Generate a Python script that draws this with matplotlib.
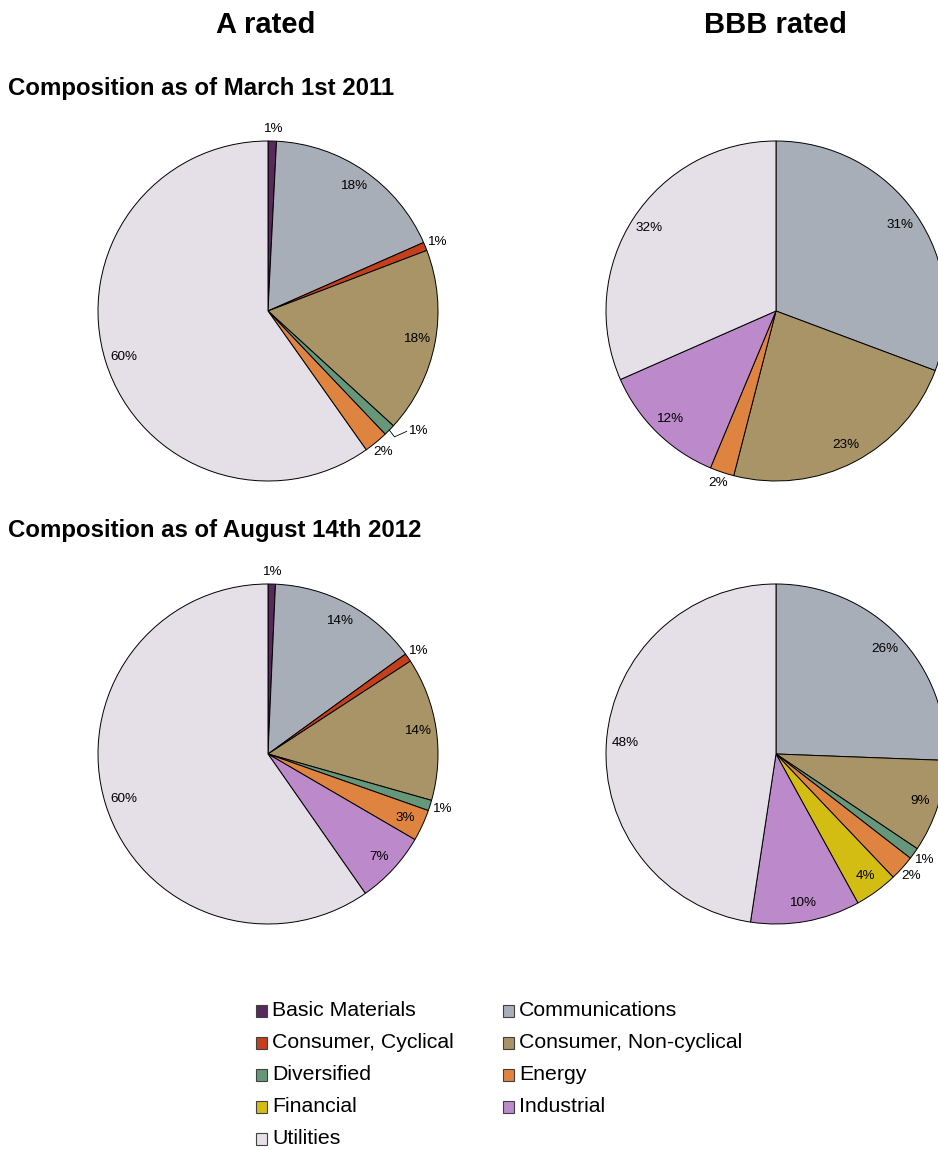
import numpy as np
import matplotlib
matplotlib.use("Agg")
import matplotlib.pyplot as plt
from matplotlib.patches import Rectangle

plt.rcParams['font.family'] = ['Liberation Sans', 'DejaVu Sans']

# sector order (clockwise from 12 o'clock)
sectors = ["Basic Materials", "Communications", "Consumer, Cyclical",
           "Consumer, Non-cyclical", "Diversified", "Energy",
           "Financial", "Industrial", "Utilities"]
colors = ["#582A5C", "#A8AEB8", "#C4401C", "#A99467", "#67977A",
          "#DE8440", "#D4BD12", "#BC8ACA", "#E5E0E8"]

# shares in percent
a_2011 = [0.8, 17.6, 0.8, 17.6, 1.1, 2.3, 0.0, 0.0, 59.8]
bbb_2011 = [0.0, 30.7, 0.0, 23.3, 0.0, 2.3, 0.0, 12.1, 31.6]
a_2012 = [0.7, 14.3, 0.8, 13.6, 1.0, 3.0, 0.0, 6.9, 59.7]
bbb_2012 = [0.0, 25.6, 0.0, 8.8, 1.1, 2.4, 4.1, 10.4, 47.6]

W, H = 938, 1150
R = 170  # pie radius in px
fig = plt.figure(figsize=(W / 100, H / 100), dpi=100)


def draw_pie(values, cx, cy, leader=()):
    ax = fig.add_axes([(cx - R) / W, 1 - (cy + R) / H, 2 * R / W, 2 * R / H])
    vals = np.array(values)
    keep = vals > 0
    cols = [c for c, k in zip(colors, keep) if k]
    names = [s for s, k in zip(sectors, keep) if k]
    wedges, _ = ax.pie(vals[keep], colors=cols, startangle=90, counterclock=False,
                       radius=1.0, wedgeprops=dict(edgecolor="black", linewidth=0.7))
    for w, v, name in zip(wedges, vals[keep], names):
        mid = np.deg2rad((w.theta1 + w.theta2) / 2)
        lab = "%.0f%%" % v
        if v < 2.5:
            if name in leader:
                mid2 = mid + np.deg2rad(3.5)
                x0, y0 = np.cos(mid) * 1.0, np.sin(mid) * 1.0
                x1, y1 = np.cos(mid2) * 1.08, np.sin(mid2) * 1.08
                ax.plot([x0, x0 + 0.03, x1], [y0, y0 - 0.04, y1], color="black", lw=0.6,
                        clip_on=False)
                ax.text(x1 + 0.01, y1, lab, ha="left", va="center", fontsize=9.7)
            else:
                ax.text(np.cos(mid) * 1.07, np.sin(mid) * 1.07, lab,
                        ha="center", va="center", fontsize=9.7)
        else:
            ax.text(np.cos(mid) * 0.89, np.sin(mid) * 0.89, lab,
                    ha="center", va="center", fontsize=9.7)
    ax.set_xlim(-1, 1)
    ax.set_ylim(-1, 1)
    ax.set_aspect("equal")
    ax.axis("off")
    return ax


draw_pie(a_2011, 268, 311, leader=("Diversified",))
draw_pie(bbb_2011, 776, 311)
draw_pie(a_2012, 268, 754)
draw_pie(bbb_2012, 776, 754)

fig.text(266 / W, 1 - 25 / H, "A rated", ha="center", va="center",
         fontsize=21, fontweight="bold")
fig.text(775 / W, 1 - 25 / H, "BBB rated", ha="center", va="center",
         fontsize=21, fontweight="bold")
fig.text(8 / W, 1 - 88 / H, "Composition as of March 1st 2011", ha="left",
         va="center", fontsize=17.3, fontweight="bold")
fig.text(8 / W, 1 - 531 / H, "Composition as of August 14th 2012", ha="left",
         va="center", fontsize=17.3, fontweight="bold")

# legend, filled row by row in two columns
for i, (name, col) in enumerate(zip(sectors, colors)):
    row, c = divmod(i, 2)
    x = 256 + c * 247
    y = 1011 + row * 32
    fig.patches.append(Rectangle((x / W, 1 - (y + 6) / H), 11 / W, 12 / H,
                                 transform=fig.transFigure, facecolor=col,
                                 edgecolor="#404040", linewidth=0.8))
    fig.text((x + 16) / W, 1 - y / H, name, ha="left", va="center",
             fontsize=15.3)

fig.savefig("out.png", dpi=100)
